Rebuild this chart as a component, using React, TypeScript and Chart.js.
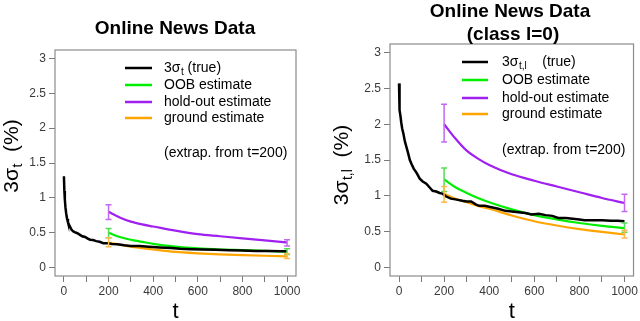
import React, { useEffect, useRef } from "react";
import { Chart, registerables } from "chart.js";

Chart.register(...registerables);

const FONT = "'Liberation Sans', Arial, Helvetica, sans-serif";
const BLACK = "#000000";
const GREEN = "#00ee00";
const PURPLE = "#a020f0";
const ORANGE = "#ffa500";
const GREEN_ERR = "#55dd55";
const PURPLE_ERR = "#c46af2";
const ORANGE_ERR = "#ffb84a";

// ---- shared axes ----
const xTicks = [0, 100, 200, 300, 400, 500, 600, 700, 800, 900, 1000];
const yTicks = [0, 0.5, 1, 1.5, 2, 2.5, 3];
const legendLabels = ["OOB estimate", "hold-out estimate", "ground estimate"];
const extrapNote = "(extrap. from t=200)";

// ---- left panel: Online News Data ----
const leftTitle = ["Online News Data"];
const leftTrueT = [0, 2, 4, 7, 10, 14, 18, 22, 27, 33, 38, 42, 48, 55, 62, 72, 82, 95, 105, 117, 130, 145, 160, 176, 195, 215, 240, 270, 300, 340, 380, 430, 480, 520, 570, 620, 680, 740, 800, 860, 920, 970, 1000];
const leftTrueV = [1.31, 1.1, 0.98, 0.86, 0.78, 0.7, 0.65, 0.62, 0.59, 0.55, 0.53, 0.52, 0.51, 0.5, 0.49, 0.47, 0.45, 0.44, 0.42, 0.4, 0.395, 0.38, 0.37, 0.35, 0.35, 0.34, 0.335, 0.32, 0.31, 0.31, 0.3, 0.29, 0.28, 0.27, 0.265, 0.26, 0.255, 0.25, 0.245, 0.24, 0.24, 0.235, 0.235];
const estT = [200, 250, 300, 350, 400, 500, 600, 700, 800, 900, 1000];
const leftOOB = [0.5, 0.44, 0.4, 0.37, 0.34, 0.3, 0.275, 0.26, 0.25, 0.24, 0.23];
const leftHold = [0.8, 0.72, 0.66, 0.62, 0.59, 0.53, 0.48, 0.45, 0.42, 0.39, 0.36];
const leftGround = [0.36, 0.33, 0.3, 0.28, 0.26, 0.225, 0.205, 0.19, 0.18, 0.17, 0.16];
const errT = [200, 1000];
const leftOOBLo = [0.43, 0.19];
const leftOOBHi = [0.56, 0.27];
const leftHoldLo = [0.69, 0.31];
const leftHoldHi = [0.9, 0.4];
const leftGroundLo = [0.3, 0.13];
const leftGroundHi = [0.43, 0.2];

// ---- right panel: Online News Data (class l=0) ----
const rightTitle = ["Online News Data", "(class l=0)"];
const rightTrueT = [0, 1, 2, 4, 7, 10, 14, 20, 26, 33, 40, 48, 56, 65, 78, 92, 105, 121, 135, 149, 165, 180, 193, 209, 230, 250, 281, 300, 320, 340, 355, 380, 410, 440, 472, 500, 530, 560, 588, 620, 650, 680, 706, 740, 770, 800, 823, 860, 900, 940, 970, 1000];
const rightTrueV = [2.57, 2.45, 2.3, 2.2, 2.1, 2.02, 1.94, 1.86, 1.76, 1.68, 1.6, 1.5, 1.44, 1.38, 1.32, 1.24, 1.2, 1.17, 1.12, 1.07, 1.06, 1.04, 1.03, 0.99, 0.96, 0.95, 0.93, 0.92, 0.92, 0.88, 0.86, 0.86, 0.84, 0.82, 0.79, 0.78, 0.77, 0.76, 0.74, 0.75, 0.73, 0.72, 0.69, 0.69, 0.68, 0.67, 0.66, 0.66, 0.66, 0.65, 0.65, 0.645];
const rightOOB = [1.23, 1.12, 1.04, 0.97, 0.91, 0.81, 0.73, 0.67, 0.62, 0.58, 0.55];
const rightHold = [2.0, 1.8, 1.63, 1.52, 1.43, 1.3, 1.21, 1.13, 1.05, 0.97, 0.9];
const rightGround = [1.03, 0.96, 0.91, 0.86, 0.82, 0.725, 0.645, 0.585, 0.535, 0.495, 0.46];
const rightOOBLo = [1.06, 0.49];
const rightOOBHi = [1.39, 0.62];
const rightHoldLo = [1.75, 0.78];
const rightHoldHi = [2.28, 1.02];
const rightGroundLo = [0.91, 0.41];
const rightGroundHi = [1.13, 0.52];

type ErrSet = { lo: number[]; hi: number[]; color: string };

type PanelSpec = {
  left: number;
  titles: string[];
  titleX: number[];
  titleY: number[];
  padTop: number;
  padRight: number;
  yWidth: number;
  yTitleX: number;
  yTitleY: number;
  sub: string;
  legendSubGap: string;
  legendX0: number;
  legendX1: number;
  legendTextX: number;
  legendRows: number[];
  extrapY: number;
  trueT: number[];
  trueV: number[];
  oob: number[];
  hold: number[];
  ground: number[];
  errs: ErrSet[];
};

const pts = (t: number[], v: number[]) => t.map((x, i) => ({ x, y: v[i] }));

function drawSubText(ctx: CanvasRenderingContext2D, x: number, y: number, main: string, sub: string, rest: string, big: number, small: number, subDrop: number) {
  ctx.font = `${big}px ${FONT}`;
  ctx.fillText(main, x, y);
  let cx = x + ctx.measureText(main).width;
  ctx.font = `${small}px ${FONT}`;
  ctx.fillText(sub, cx + 0.5, y + subDrop);
  cx += ctx.measureText(sub).width + 0.5;
  ctx.font = `${big}px ${FONT}`;
  ctx.fillText(rest, cx, y);
}

function measureSub(ctx: CanvasRenderingContext2D, main: string, sub: string, rest: string, big: number, small: number) {
  ctx.font = `${big}px ${FONT}`;
  let w = ctx.measureText(main).width + ctx.measureText(rest).width;
  ctx.font = `${small}px ${FONT}`;
  w += ctx.measureText(sub).width + 0.5;
  return w;
}

function PanelChart({ spec }: { spec: PanelSpec }) {
  const ref = useRef<HTMLCanvasElement | null>(null);
  useEffect(() => {
    if (!ref.current) return;
    const s = spec;
    const decor = {
      id: "decor",
      afterDatasetsDraw(chart: any) {
        const ctx: CanvasRenderingContext2D = chart.ctx;
        const xs = chart.scales.x;
        const ys = chart.scales.y;
        ctx.save();
        ctx.lineWidth = 1.5;
        s.errs.forEach((e) => {
          ctx.strokeStyle = e.color;
          errT.forEach((t, i) => {
            const px = xs.getPixelForValue(t);
            const y1 = ys.getPixelForValue(e.lo[i]);
            const y2 = ys.getPixelForValue(e.hi[i]);
            ctx.beginPath();
            ctx.moveTo(px, y1);
            ctx.lineTo(px, y2);
            ctx.moveTo(px - 3, y1);
            ctx.lineTo(px + 3, y1);
            ctx.moveTo(px - 3, y2);
            ctx.lineTo(px + 3, y2);
            ctx.stroke();
          });
        });
        ctx.restore();
      },
      afterDraw(chart: any) {
        const ctx: CanvasRenderingContext2D = chart.ctx;
        const a = chart.chartArea;
        ctx.save();
        ctx.strokeStyle = "#8c8c8c";
        ctx.lineWidth = 1.2;
        ctx.strokeRect(a.left, a.top, a.right - a.left, a.bottom - a.top);
        ctx.fillStyle = "#000";
        ctx.textAlign = "center";
        ctx.textBaseline = "alphabetic";
        ctx.font = `bold 19px ${FONT}`;
        s.titles.forEach((t, i) => ctx.fillText(t, s.titleX[i], s.titleY[i]));
        ctx.font = `22px ${FONT}`;
        ctx.fillText("t", (a.left + a.right) / 2, 318);
        ctx.save();
        ctx.translate(s.yTitleX, s.yTitleY);
        ctx.rotate(-Math.PI / 2);
        ctx.textAlign = "left";
        const w = measureSub(ctx, "3σ", s.sub, "  (%)", 21, 14);
        drawSubText(ctx, -w / 2, 0, "3σ", s.sub, "  (%)", 21, 14, 4);
        ctx.restore();
        const colors = [BLACK, GREEN, PURPLE, ORANGE];
        ctx.textAlign = "left";
        ctx.textBaseline = "middle";
        ctx.lineWidth = 2.5;
        s.legendRows.forEach((ry, i) => {
          ctx.strokeStyle = colors[i];
          ctx.beginPath();
          ctx.moveTo(s.legendX0, ry);
          ctx.lineTo(s.legendX1, ry);
          ctx.stroke();
          ctx.fillStyle = "#000";
          if (i === 0) {
            drawSubText(ctx, s.legendTextX, ry, "3σ", s.sub, s.legendSubGap + "(true)", 14, 10, 4);
          } else {
            ctx.font = `14px ${FONT}`;
            ctx.fillText(legendLabels[i - 1], s.legendTextX, ry);
          }
        });
        ctx.font = `14px ${FONT}`;
        ctx.fillText(extrapNote, s.legendTextX, s.extrapY);
        ctx.restore();
      },
    };
    const chart = new Chart(ref.current, {
      type: "line",
      data: {
        datasets: [
          { label: "true", data: pts(s.trueT, s.trueV), borderColor: BLACK, borderWidth: 2.5, pointRadius: 0, tension: 0 },
          { label: legendLabels[0], data: pts(estT, s.oob), borderColor: GREEN, borderWidth: 2.2, pointRadius: 0, cubicInterpolationMode: "monotone" },
          { label: legendLabels[1], data: pts(estT, s.hold), borderColor: PURPLE, borderWidth: 2.2, pointRadius: 0, cubicInterpolationMode: "monotone" },
          { label: legendLabels[2], data: pts(estT, s.ground), borderColor: ORANGE, borderWidth: 2.2, pointRadius: 0, cubicInterpolationMode: "monotone" },
        ] as any,
      },
      options: {
        animation: false,
        responsive: false,
        maintainAspectRatio: false,
        layout: { padding: { top: s.padTop, right: s.padRight, left: 0, bottom: 0 } },
        plugins: { legend: { display: false }, title: { display: false }, tooltip: { enabled: false } },
        scales: {
          x: {
            type: "linear",
            min: -40,
            max: 1040,
            afterFit: (axis: any) => {
              axis.height = 45;
            },
            afterBuildTicks: (axis: any) => {
              axis.ticks = xTicks.map((v) => ({ value: v }));
            },
            border: { display: false },
            grid: { drawOnChartArea: false, drawTicks: true, tickLength: 6, color: "#7a7a7a", lineWidth: 1 },
            ticks: {
              autoSkip: false,
              maxRotation: 0,
              padding: 2,
              color: "#3a3a3a",
              font: { family: FONT, size: 12 },
              callback: (v: any) => (Number(v) % 200 === 0 ? String(v) : ""),
            },
          },
          y: {
            type: "linear",
            min: -0.12,
            max: 3.12,
            afterFit: (axis: any) => {
              axis.width = s.yWidth;
            },
            afterBuildTicks: (axis: any) => {
              axis.ticks = yTicks.map((v) => ({ value: v }));
            },
            border: { display: false },
            grid: { drawOnChartArea: false, drawTicks: true, tickLength: 6, color: "#7a7a7a", lineWidth: 1 },
            ticks: {
              autoSkip: false,
              padding: 3,
              color: "#3a3a3a",
              font: { family: FONT, size: 12 },
              callback: (v: any) => String(v),
            },
          },
        },
      } as any,
      plugins: [decor],
    });
    return () => chart.destroy();
  }, [spec]);
  return (
    <canvas
      ref={ref}
      width={320}
      height={321}
      style={{ position: "absolute", left: spec.left, top: 0, width: 320, height: 321, display: "block" }}
    />
  );
}

const leftSpec: PanelSpec = {
  left: 0,
  titles: leftTitle,
  titleX: [175],
  titleY: [34],
  padTop: 50,
  padRight: 24,
  yWidth: 55,
  yTitleX: 18,
  yTitleY: 156,
  sub: "t",
  legendSubGap: " ",
  legendX0: 125,
  legendX1: 152,
  legendTextX: 164,
  legendRows: [68, 85, 102, 118],
  extrapY: 153,
  trueT: leftTrueT,
  trueV: leftTrueV,
  oob: leftOOB,
  hold: leftHold,
  ground: leftGround,
  errs: [
    { lo: leftHoldLo, hi: leftHoldHi, color: PURPLE_ERR },
    { lo: leftOOBLo, hi: leftOOBHi, color: GREEN_ERR },
    { lo: leftGroundLo, hi: leftGroundHi, color: ORANGE_ERR },
  ],
};

const rightSpec: PanelSpec = {
  left: 320,
  titles: rightTitle,
  titleX: [190, 193],
  titleY: [17, 40],
  padTop: 44,
  padRight: 4,
  yWidth: 70,
  yTitleX: 28,
  yTitleY: 165,
  sub: "t,l",
  legendSubGap: "    ",
  legendX0: 142,
  legendX1: 168,
  legendTextX: 182,
  legendRows: [62, 80, 98, 114],
  extrapY: 150,
  trueT: rightTrueT,
  trueV: rightTrueV,
  oob: rightOOB,
  hold: rightHold,
  ground: rightGround,
  errs: [
    { lo: rightHoldLo, hi: rightHoldHi, color: PURPLE_ERR },
    { lo: rightOOBLo, hi: rightOOBHi, color: GREEN_ERR },
    { lo: rightGroundLo, hi: rightGroundHi, color: ORANGE_ERR },
  ],
};

export default function App() {
  return (
    <div style={{ position: "absolute", left: 0, top: 0, width: 640, height: 321, background: "#fff", overflow: "hidden" }}>
      <PanelChart spec={leftSpec} />
      <PanelChart spec={rightSpec} />
    </div>
  );
}
